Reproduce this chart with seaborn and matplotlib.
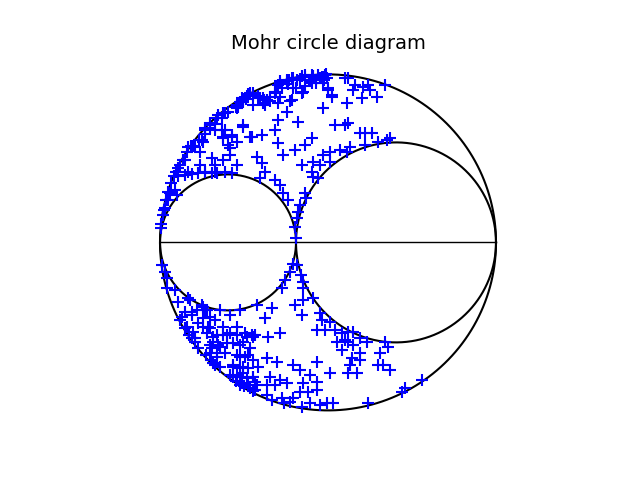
import numpy as np
import pandas as pd
import seaborn as sns
import matplotlib
matplotlib.use("Agg")
import matplotlib.pyplot as plt

# principal stresses (arbitrary units)
sigma_3 = 0
sigma_2 = 136
sigma_1 = 336

sigma = [
    129, 133, 137, 140, 145, 149, 153, 158, 162, 166, 164, 156, 145, 136, 128, 122, 116, 110, 104, 98,
    90, 86, 80, 76, 68, 62, 55, 50, 45, 39, 33, 27, 23, 18, 14, 11, 8, 6, 4, 1,
    88, 83, 78, 63, 57, 50, 45, 62, 83, 72, 90, 63, 43, 28, 35, 70, 70, 52, 63, 25,
    20, 40, 55, 77, 16, 28, 45, 55, 65,
    93, 103, 115, 120, 127, 145, 153, 163, 167, 185, 152, 143, 168, 172, 120, 132, 105, 118, 163, 127,
    118, 138, 115, 175, 185, 102, 92, 152, 145, 118, 135, 97, 123, 163, 170, 180, 102, 142, 153, 160,
    170, 105, 152,
    188, 195, 193, 203, 208, 210, 225, 202, 217, 187, 188, 200, 205, 212, 218, 230, 227, 205, 190, 187,
    18, 25, 32, 38, 45, 52, 57, 72, 15, 10, 17, 8, 5, 3, 1, 2, 5, 7,
    100, 115, 120, 153, 158, 123, 128, 145, 146, 140, 138, 137, 135, 136, 133, 137, 130, 141, 125, 143,
    7, 15, 18, 30, 43, 25, 32, 45, 60, 70, 80, 20, 38, 48, 63, 77, 25, 29, 35, 57,
    67, 85, 92, 53, 73, 83, 38, 52, 58, 46, 57, 65, 80, 88, 51, 55, 73, 83, 70, 77,
    83, 76, 82, 88, 84, 93,
    122, 143, 97, 112, 105, 135, 143, 153, 142, 160, 162, 170, 157, 165, 175, 182, 185, 177, 182, 93,
    108, 120, 107, 117, 98, 133, 140, 157, 150, 170, 188, 93, 110, 120, 127, 143, 157, 97, 107, 115,
    140, 148, 157, 107, 122, 133, 95, 124, 142, 150, 160, 167, 173, 112, 130,
    188, 193, 200, 207, 225, 228, 188, 193, 200, 192, 200, 220, 218, 223, 230, 190, 197, 262, 245, 242,
    208, 40,
    28, 32, 37, 42, 47, 43, 50, 22, 27, 33, 43, 50, 55, 53, 32, 35,
    47, 63, 70, 77, 87, 95, 50, 60, 67, 80, 90, 50, 57, 77, 85, 93, 53, 60, 73, 80,
    88, 73, 80, 87, 93, 80, 90, 95,
    31, 42, 45, 50, 58, 65, 77, 82, 77, 65, 63, 72, 77, 83, 55, 68,
    87, 93, 100, 103, 110, 115, 118, 120, 127, 132, 130, 133, 142, 142, 150, 152, 160, 165, 163, 168,
    172, 83, 93, 107,
]
tau = [
    162, 164, 162, 163, 165, 162, 166, 167, 165, 168, 162, 159, 156, 154, 158, 154, 150, 145, 142, 146,
    149, 143, 140, 135, 130, 124, 118, 114, 108, 102, 96, 90, 82, 74, 66, 59, 50, 42, 32, 18,
    148, 140, 135, 129, 124, 117, 112, 112, 115, 107, 105, 105, 100, 95, 95, 94, 87, 84, 82, 82,
    77, 77, 77, 77, 70, 70, 70, 70, 70,
    147, 144, 150, 159, 162, 167, 166, 165, 164, 164, 159, 150, 154, 145, 145, 142, 137, 139, 134, 130,
    122, 120, 112, 117, 117, 107, 105, 104, 97, 99, 92, 85, 87, 87, 90, 92, 79, 77, 80, 77,
    80, 70, 70,
    164, 157, 152, 155, 157, 152, 157, 144, 145, 139, 119, 109, 109, 109, 100, 104, 102, 97, 95, 90,
    66, 67, 68, 69, 70, 69, 69, 69, 52, 49, 47, 42, 34, 27, 14, -23, -30, -36,
    64, 62, 57, 65, 64, 49, 42, 49, 44, 37, 30, 24, 15, 4, -22, -23, -30, -33, -38, -40,
    -46, -48, -60, -58, -65, -70, -73, -68, -68, -73, -68, -78, -81, -85, -85, -85, -86, -93, -96, -93,
    -93, -91, -93, -100, -101, -100, -106, -106, -103, -113, -111, -111, -115, -113, -118, -123, -125, -125, -133, -133,
    -131, -139, -141, -143, -144, -149,
    -46, -46, -63, -66, -76, -63, -58, -56, -73, -71, -78, -80, -88, -88, -88, -91, -98, -100, -108, -95,
    -95, -91, -116, -120, -125, -123, -128, -120, -133, -131, -131, -135, -135, -138, -141, -141, -140, -143, -143, -143,
    -150, -150, -148, -153, -156, -156, -148, -161, -165, -161, -163, -161, -161, -158, -160,
    -90, -90, -96, -100, -100, -105, -100, -103, -111, -116, -118, -111, -123, -123, -128, -123, -131, -138, -146, -150,
    -161, 90,
    -56, -70, -68, -63, -68, -76, -75, -75, -85, -90, -85, -86, -78, -95, -96, -100,
    -91, -93, -91, -93, -95, -93, -103, -105, -101, -103, -106, -111, -115, -113, -115, -118, -121, -125, -123, -126,
    -126, -135, -135, -136, -135, -143, -146, -140,
    96, 102, 114, 119, 127, 129, 137, 144, 134, 112, 104, 105, 100, 117, 112, 97,
    146, 149, 144, 139, 141, 149, 157, 161, 161, 164, 141, 154, 149, 166, 161, 167, 164, 167, 159, 152,
    147, 142, 137, 142,
]

df = pd.DataFrame({"sigma": sigma, "tau": tau})

fig, ax = plt.subplots(figsize=(6.4, 4.8), dpi=100)

# the three Mohr circles
theta = np.linspace(0, 2 * np.pi, 400)
for a, b in [(sigma_3, sigma_1), (sigma_3, sigma_2), (sigma_2, sigma_1)]:
    c, r = (a + b) / 2, (b - a) / 2
    ax.plot(c + r * np.cos(theta), r * np.sin(theta), color="black", lw=1.5)

ax.plot([sigma_3, sigma_1], [0, 0], color="black", lw=1)

sns.scatterplot(data=df, x="sigma", y="tau", marker="+", color="blue",
                s=80, linewidth=1.5, ax=ax, zorder=3)

ax.set_aspect("equal")
ax.axis("off")
ax.set_title("Mohr circle diagram", fontsize=14)

plt.savefig("out.png", dpi=100)
